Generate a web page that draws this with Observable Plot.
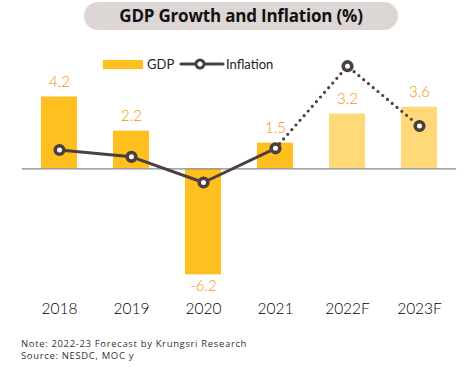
<!DOCTYPE html>
<html>
<head>
<meta charset="utf-8">
<script src="https://cdn.jsdelivr.net/npm/d3@7"></script>
<script src="https://cdn.jsdelivr.net/npm/@observablehq/plot@0.6"></script>
<style>
  html, body { margin: 0; padding: 0; background: #fff; }
  #wrap { position: relative; width: 471px; height: 369px; overflow: hidden; font-family: Lato, "Open Sans", sans-serif; }
  #title { position: absolute; left: 84px; top: 2px; width: 314px; height: 28px; border-radius: 14px; background: #ddd6d5;
           font-family: "Open Sans", sans-serif; font-weight: 700; font-size: 17px; line-height: 28px; text-align: center; color: #111; letter-spacing: -0.2px; }
  .leg { position: absolute; font-size: 13px; color: #222; line-height: 16px; }
  #caption { position: absolute; left: 21px; top: 338px; font-size: 9.5px; line-height: 11.5px; color: #333; font-family: "Open Sans", sans-serif; letter-spacing: 0.65px; }
  #plot { position: absolute; left: 0; top: 0; }
</style>
</head>
<body>
<div id="wrap">
  <div id="plot"></div>
  <div id="title">GDP Growth and Inflation (%)</div>
  <div class="leg" style="left:103px;top:60px;width:40px;height:9px;background:#ffbf1f;"></div>
  <div class="leg" style="left:147px;top:56px;">GDP</div>
  <svg class="leg" style="left:179px;top:56px;" width="46" height="16">
    <line x1="2" y1="8" x2="44" y2="8" stroke="#4b3f3f" stroke-width="3" stroke-linecap="round"></line>
    <circle cx="21" cy="8" r="4" fill="#fff" stroke="#4b3f3f" stroke-width="3"></circle>
  </svg>
  <div class="leg" style="left:226px;top:56px;">Inflation</div>
  <div id="caption">Note: 2022-23 Forecast by Krungsri Research<br>Source: NESDC, MOC y</div>
</div>
<script>
const years = ["2018", "2019", "2020", "2021", "2022F", "2023F"];
const gdp = [4.2, 2.2, -6.2, 1.5, 3.2, 3.6];
const inflation = [1.1, 0.7, -0.8, 1.2, 6.0, 2.5];
const forecast = [false, false, false, false, true, true];
const gdpLabels = ["4.2", "2.2", "-6.2", "1.5", "3.2", "3.6"];

const data = years.map((y, i) => ({year: y, gdp: gdp[i], inf: inflation[i], fc: forecast[i], label: gdpLabels[i]}));
const actualLine = data.slice(0, 4);
const forecastLine = data.slice(3);
const posData = data.filter(d => d.gdp >= 0);
const negData = data.filter(d => d.gdp < 0);

const chart = Plot.plot({
  width: 471,
  height: 369,
  marginLeft: 21.8,
  marginRight: 14.8,
  marginTop: 48.6,
  marginBottom: 81,
  style: {fontFamily: "Lato, sans-serif", background: "transparent"},
  x: {domain: years, paddingInner: 0.5, paddingOuter: 0.25, label: null},
  y: {domain: [-7, 7], axis: null},
  marks: [
    Plot.barY(data, {x: "year", y: "gdp", fill: d => d.fc ? "#ffd878" : "#ffbf1f"}),
    Plot.ruleY([0], {stroke: "#8a8a8a", strokeWidth: 1.2}),
    Plot.text(posData, {x: "year", y: "gdp", text: "label", dy: -15, fill: "#f39200", fontSize: 15, fontWeight: 300}),
    Plot.text(negData, {x: "year", y: "gdp", text: "label", dy: 11, fill: "#f39200", fontSize: 15, fontWeight: 300}),
    Plot.line(actualLine, {x: "year", y: "inf", stroke: "#4b3f3f", strokeWidth: 3}),
    Plot.line(forecastLine, {x: "year", y: "inf", stroke: "#4b3f3f", strokeWidth: 3.2, strokeDasharray: "0,6.2", strokeLinecap: "round"}),
    Plot.dot(data, {x: "year", y: "inf", r: 4.3, fill: "#fff", stroke: "#4b3f3f", strokeWidth: 3.6}),
    Plot.axisX({tickSize: 0, tickPadding: 14, fontSize: 15.5, fontWeight: 300, fill: "#000", label: null})
  ]
});
document.getElementById("plot").appendChild(chart);
</script>
</body>
</html>
